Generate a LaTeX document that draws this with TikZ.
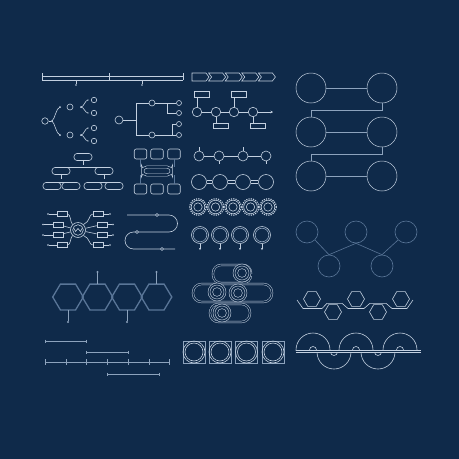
\documentclass[tikz,border=0pt]{standalone}
\usetikzlibrary{arrows.meta,calc}
\definecolor{bg}{HTML}{0F2A4A}
\definecolor{ln}{HTML}{C3D0E0}
\definecolor{dim}{HTML}{5A7698}
\definecolor{mid}{HTML}{8DA3BD}
\begin{document}
\begin{tikzpicture}[x=1pt,y=-1pt,line width=0.6pt,color=ln,
  cn/.style={circle,draw=ln,inner sep=0pt,minimum size=#1},
  bx/.style={rectangle,draw=ln,inner sep=0pt,minimum width=#1,minimum height=5.5pt},
  obox/.style={rectangle,rounded corners=3pt,draw=ln,inner sep=0pt,minimum width=18pt,minimum height=7pt},
  qbox/.style={rectangle,rounded corners=2pt,draw=ln,inner sep=0pt,minimum width=12.5pt,minimum height=10pt},
  dotn/.style={circle,fill=ln,inner sep=0pt,minimum size=2pt},
  odot/.style={circle,draw=ln,inner sep=0pt,minimum size=3pt},
  dbl/.style={double=bg,double distance=1.6pt},
  thintrack/.style={line width=0.45pt,double=bg,double distance=1.3pt}]
\fill[bg] (0,0) rectangle (459,459);
\useasboundingbox (0,0) rectangle (459,459);

% 1 top-left timeline
\draw (42,76) -- (183,76) (42,80) -- (183,80);
\draw (42,73) -- (42,80) (109,73) -- (109,80) (183,73) -- (183,80);
\draw (76,80) -- (76,84) (142,80) -- (142,84);
\fill (76,85) circle (0.9) (142,85) circle (0.9);

% 2 binary tree
\node[cn=6.5pt] (a0) at (45,121) {};
\node[dotn] (a1) at (52,121) {};
\draw (a0) -- (a1);
\node[dotn] (a2) at (60,107) {};
\node[dotn] (a3) at (60,135) {};
\draw (a1.center) .. controls (55,119) and (56,108) .. (a2.center);
\draw (a1.center) .. controls (55,123) and (56,134) .. (a3.center);
\node[cn=6pt] (a4) at (70,107) {};
\node[cn=6pt] (a5) at (70,135) {};
\node[dotn] (a6) at (81,107) {};
\node[dotn] (a7) at (81,135) {};
\foreach \n/\y/\py in {8/100/107,9/113/107,10/128/135,11/141/135}{
  \node[dotn,minimum size=1.4pt] (d\n) at (88,\y) {};
  \node[cn=5.5pt] (a\n) at (94,\y) {};
  \draw (81,\py) .. controls (84,\py) and (85,\y) .. (d\n.center);
}

% 3 right tree
\node[cn=8pt] (t0) at (119,120) {};
\coordinate (tj) at (136,120);
\draw (t0) -- (tj);
\draw (136,103) -- (136,135);
\node[cn=6pt] (t1) at (152,103) {};
\node[cn=6pt] (t2) at (152,135) {};
\draw (136,103) -- (t1) (136,135) -- (t2);
\node[cn=5pt] (t3) at (179,103) {};
\node[cn=5pt] (t4) at (179,113) {};
\node[cn=5pt] (t5) at (179,124) {};
\node[cn=5pt] (t6) at (179,135) {};
\draw (t1) -- (t3);
\draw (167,103) |- (t4);
\draw (t2) -- (t6);
\draw (172,135) |- (t5);

% 4 chevrons
\draw (192,73) -- (206,73) -- (209,77) -- (206,81) -- (192,81) -- cycle;
\foreach \i in {1,...,4}{
  \draw[shift={(192+\i*16.6,0)}] (0,73) -- (14,73) -- (17,77) -- (14,81) -- (0,81) -- (3,77) -- cycle;
}

% 5 circle timeline with boxes
\foreach \n/\x in {1/197,2/216,3/234,4/253} \node[cn=9.5pt] (k\n) at (\x,112) {};
\draw (k1) -- (k2) (k2) -- (k3) (k3) -- (k4);
\coordinate (kend) at (273,112);
\draw[-{Stealth[length=2.5pt,width=2.5pt]}] (k4) -- (kend);
\node[bx=15pt] (kb1) at (202,94.5) {};
\node[bx=15pt] (kb3) at (239,94.5) {};
\node[bx=15pt] (kb2) at (221,126) {};
\node[bx=15pt] (kb4) at (258,126) {};
\draw (kb1.south -| k1) -- (k1);
\draw (kb3.south -| k3) -- (k3);
\draw (k2) -- (kb2.north -| k2);
\draw (k4) -- (kb4.north -| k4);

% 6 big circles
\foreach \n/\x/\y in {1/311/88,2/382/88,3/311/132,4/382/132,5/311/176,6/382/176}
  \node[cn=30pt,line width=0.5pt] (B\n) at (\x,\y) {};
\begin{scope}[mid,line width=0.5pt]
\draw (B1) -- (B2) (B3) -- (B4) (B5) -- (B6);
\draw (B2.south) -- (382,110) -| (B3.north);
\draw (B4.south) -- (382,154) -| (B5.north);
\end{scope}

% 7 org chart
\node[obox] (O0) at (83,157) {};
\node[obox] (O1) at (61,171) {};
\node[obox] (O2) at (104,171) {};
\node[obox] (O3) at (52,186) {};
\node[obox] (O4) at (71,186) {};
\node[obox] (O5) at (93,186) {};
\node[obox] (O6) at (114,186) {};
\draw (O0.south) -- (83,165);
\draw (O1.north) |- (O2.north);
\draw (O1.south) -- (61,178.5);
\draw (O3.north) |- (O4.north);
\draw (O2.south) -- (104,178.5);
\draw (O5.north) |- (O6.north);

% 8 boxes and oval
\foreach \n/\x in {1/140.5,2/157,3/174}{
  \node[qbox] (Q\n) at (\x,154) {};
  \node[qbox] (R\n) at (\x,189) {};
}
\node[rectangle,rounded corners=4.5pt,draw=ln,dbl,inner sep=0pt,minimum width=29pt,minimum height=8pt] (P) at (157,171) {};
\begin{scope}[dim,line width=0.4pt]
\draw (Q1.south) -- (Q1.south |- P.north);
\draw (Q3.south) -- (Q3.south |- P.north);
\draw (R1.north) -- (R1.north |- P.south);
\draw (R3.north) -- (R3.north |- P.south);
\end{scope}

% 9a small circles row
\foreach \n/\x in {1/199,2/219,3/243,4/266} \node[cn=10pt] (c\n) at (\x,156) {};
\draw (c1) -- (c2) (c2) -- (c3) (c3) -- (c4);
\draw (199,147) -- (199,151) (243,147) -- (243,151) (219,161) -- (219,164) (266,161) -- (266,164);

% 9b circles with double links
\foreach \n/\x in {1/199,2/220,3/243,4/266} \node[cn=15pt] (g\n) at (\x,182) {};
\foreach \a/\b in {1/2,2/3,3/4}{
  \draw ($(g\a.east)+(0,-1.3)$) -- ($(g\b.west)+(0,-1.3)$);
  \draw ($(g\a.east)+(0,1.3)$) -- ($(g\b.west)+(0,1.3)$);
}

% 9c gears
\foreach \x in {198,215.5,233,250.5,268}{
  \draw[line width=1.1pt,dash pattern=on 1.2pt off 1.1pt] (\x,207) circle (8.3);
  \draw (\x,207) circle (6.8);
  \draw (\x,207) circle (4.2);
}

% 9d circles with arrows
\foreach \n/\x in {1/200,2/220,3/240,4/262}{
  \node[cn=17pt] (h\n) at (\x,235) {};
  \draw[mid] (\x,235) circle (6.8);
  \coordinate (hh\n) at (\x,250);
  \draw[-{Stealth[length=2.2pt,width=2.2pt]}] (h\n.south) -- (hh\n);
}

% 10 mind map
\node[cn=15pt] (M) at (78,230) {};
\draw (78,230) circle (5.3);
\draw (74,228.5) -- (75.5,231.5) -- (78,228.5) -- (80.5,231.5) -- (82,228.5);
\foreach \n/\x/\y/\e in {1/62/214/48,2/58/224.5/43,3/58/235/43,4/62/245/48}{
  \node[bx=10pt,minimum height=5pt] (L\n) at (\x,\y) {};
  \node[dotn,minimum size=1.8pt] (Le\n) at (\e,\y) {};
  \draw (L\n) -- (Le\n);
}
\foreach \n/\x/\y/\e in {1/98/214/110,2/102/224.5/113,3/102/235/113,4/98/245/110}{
  \node[bx=10pt,minimum height=5pt] (Rr\n) at (\x,\y) {};
  \node[dotn,minimum size=1.8pt] (Re\n) at (\e,\y) {};
  \draw (Rr\n) -- (Re\n);
}
\draw (L1.east) .. controls (71,214) and (70,222) .. (M.north west);
\draw (L2) -- (M);
\draw (L3) -- (M);
\draw (L4.east) .. controls (71,245) and (70,238) .. (M.south west);
\draw (Rr1.west) .. controls (89,214) and (90,222) .. (M.north east);
\draw (Rr2) -- (M);
\draw (Rr3) -- (M);
\draw (Rr4.west) .. controls (89,245) and (90,238) .. (M.south east);

% 11 snake line
\draw[rounded corners=8.5pt] (127,215) -- (177.5,215) -- (177.5,232) -- (125,232) -- (125,249) -- (175,249);
\node[odot,fill=bg] (s1) at (157,215) {};
\node[odot,fill=bg] (s2) at (137,232) {};
\node[odot,fill=bg] (s3) at (162,249) {};

% 12 network circles
\begin{scope}[dim]
\foreach \n/\x/\y in {1/307/232,2/356/232,3/406/232,4/329/266,5/382/266}
  \node[circle,draw=dim,inner sep=0pt,minimum size=22pt] (N\n) at (\x,\y) {};
\draw (N1.south east) -- (N4.north) -- (N2.south) -- (N5.north) -- (N3.south west);
\end{scope}

% 13 hexagon chain
\begin{scope}[dim,line width=1.3pt]
\foreach \x in {68,97.5,127,156.5}
  \draw[shift={(\x,297)}] (15.3,0) -- (7.6,12.9) -- (-7.6,12.9) -- (-15.3,0) -- (-7.6,-12.9) -- (7.6,-12.9) -- cycle;
\end{scope}
\begin{scope}[mid,line width=0.7pt]
\node[circle,fill=mid,inner sep=0pt,minimum size=2.2pt] (hp1) at (97.5,272) {};
\node[circle,fill=mid,inner sep=0pt,minimum size=2.2pt] (hp2) at (156.5,272) {};
\node[circle,fill=mid,inner sep=0pt,minimum size=2.2pt] (hp3) at (68,322) {};
\node[circle,fill=mid,inner sep=0pt,minimum size=2.2pt] (hp4) at (127,322) {};
\draw (hp1) -- (97.5,284) (hp2) -- (156.5,284) (hp3) -- (68,310) (hp4) -- (127,310);
\end{scope}

% 14 S-curve tracks
\draw[thintrack,rounded corners=8pt] (213,265) rectangle (251,283);
\draw[thintrack] (251,275) -- (280,275);
\draw[thintrack,rounded corners=8.5pt] (193,284) rectangle (272,302);
\draw[thintrack,rounded corners=8.5pt] (210,304) rectangle (250,322);
\draw[thintrack] (185,308) -- (210,308);
\foreach \x/\y in {242/273,217/292,238/293,222/313}{
  \draw[line width=0.45pt,fill=bg] (\x,\y) circle (9);
  \draw[line width=0.45pt] (\x,\y) circle (7);
  \draw[line width=0.45pt] (\x,\y) circle (4.4);
}

% 15 hexagon row
\foreach \x/\y in {312/299,333/312,356/299,378/312,401/299}
  \draw[shift={(\x,\y)}] (8.5,0) -- (4.25,7.4) -- (-4.25,7.4) -- (-8.5,0) -- (-4.25,-7.4) -- (4.25,-7.4) -- cycle;
\draw (297,300) -- (303,308.5) -- (322,308.5) -- (327,303.3) -- (342,303.3) -- (348,308.5) -- (364,308.5) -- (370,303.3) -- (386,303.3) -- (392,308.5) -- (407,308.5) -- (413,300);

% 16 half circles
\foreach \x in {313,356,400}{
  \begin{scope}
  \clip (\x-18,330) rectangle (\x+18,350);
  \draw (\x,350) circle (17);
  \draw (\x,350) circle (3.5);
  \end{scope}
}
\foreach \x in {334,378}{
  \begin{scope}
  \clip (\x-18,352) rectangle (\x+18,372);
  \draw (\x,352) circle (17);
  \draw (\x,352) circle (3.5);
  \end{scope}
}
\draw (296,350) -- (421,350) (296,352) -- (421,352);

% 17 bottom-left timeline
\begin{scope}[mid]
\draw (45,341) -- (86,341);
\draw (45,339.5) -- (45,342.5) (86,339.5) -- (86,342.5);
\draw (86,352) -- (128,352);
\draw (86,350.5) -- (86,353.5) (128,350.5) -- (128,353.5);
\draw (45,362) -- (169,362);
\foreach \x in {45,66,86,107,128,149,169} \draw (\x,359) -- (\x,365);
\draw (107,374) -- (159,374);
\draw (107,372.5) -- (107,375.5) (159,372.5) -- (159,375.5);
\end{scope}

% 18 squares with rings
\foreach \n/\x in {1/194,2/220,3/246.5,4/273}{
  \node[rectangle,draw=mid,inner sep=0pt,minimum size=22pt] (sq\n) at (\x,352) {};
  \draw (\x,352) circle (11);
  \draw (\x,352) circle (9);
}
\end{tikzpicture}
\end{document}
